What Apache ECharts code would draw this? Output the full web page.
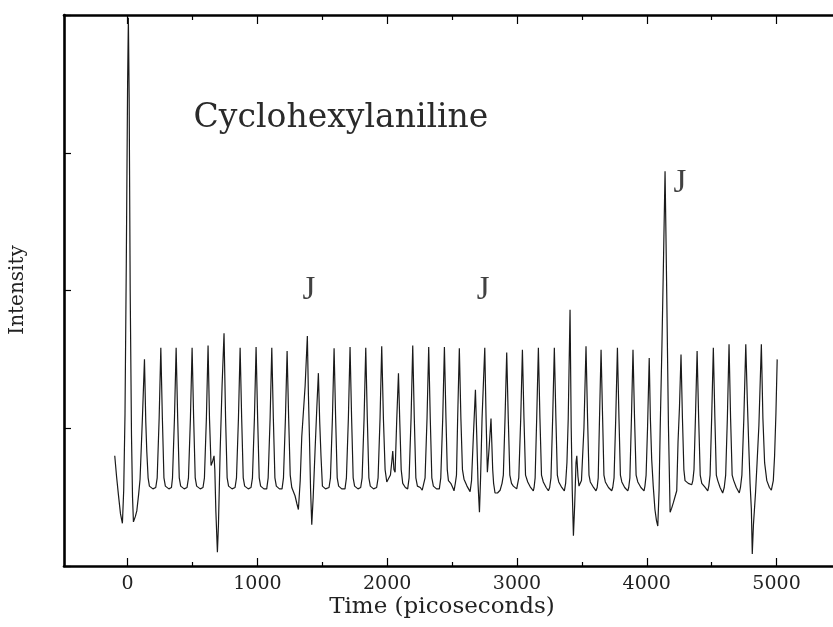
<!DOCTYPE html>
<html>
<head>
<meta charset="utf-8">
<script src="https://cdn.jsdelivr.net/npm/echarts@6/dist/echarts.min.js"></script>
<style>
html,body{margin:0;padding:0;background:#fff;}
#main{width:833px;height:627px;}
</style>
</head>
<body>
<div id="main"></div>
<script>
// ---- data (time in ps, intensity in arbitrary units 0..4) ----
const traceStart = [
[-99,0.80],[-85,0.65],[-71,0.52],[-55,0.38],[-40,0.31],[-30,0.55],[-20,1.10],[-10,2.2],[0,3.5],[6,3.98],[12,3.4],[20,2.0],[30,0.95],[38,0.50],[45,0.32],
[60,0.36],[71,0.40],[85,0.52],[96,0.63],[114,1.07],[130,1.50],[140,1.05],[148,0.83],[158,0.64],[168,0.58],[195,0.56],
[217,0.57],[228,0.64],[243,1.07],[256,1.585],[268,1.07],[280,0.64],[291,0.58],[318,0.56],
[338,0.57],[346,0.64],[361,1.07],[374,1.585],[386,1.07],[398,0.64],[409,0.58],[436,0.56],
[458,0.57],[469,0.64],[484,1.07],[497,1.585],[509,1.07],[521,0.64],[532,0.58],[560,0.56],
[581,0.57],[592,0.64],[607,1.07],[620,1.60],[631,1.07],[643,0.73],[655,0.76],[666,0.80],[672,0.70],[680,0.40],[692,0.10],[700,0.30],[713,0.83],[728,1.31],[743,1.69],[755,1.07],[767,0.64],[778,0.58],[805,0.56],
[828,0.57],[839,0.64],[854,1.07],[867,1.585],[879,1.07],[891,0.64],[902,0.58],[930,0.56],
[951,0.57],[962,0.64],[977,1.07],[990,1.59],[1002,1.07],[1014,0.64],[1025,0.58],[1050,0.56]
];
const traceMiddle = [
[1072,0.56],[1083,0.64],[1098,1.07],[1111,1.585],[1123,1.07],[1135,0.64],[1146,0.58],[1170,0.56],
[1190,0.56],[1201,0.64],[1216,1.07],[1229,1.56],[1241,1.07],[1253,0.66],[1265,0.57],[1290,0.51],[1305,0.45],[1316,0.41],[1330,0.62],[1342,0.94],[1368,1.31],[1385,1.67],[1393,1.25],[1401,0.94],[1410,0.55],[1419,0.30],[1430,0.50],[1444,0.83],[1458,1.15],[1470,1.40],[1480,1.05],[1490,0.80],[1501,0.58],[1525,0.56],
[1552,0.57],[1563,0.64],[1578,1.07],[1591,1.58],[1603,1.07],[1615,0.64],[1626,0.58],[1650,0.56],
[1675,0.56],[1686,0.64],[1701,1.07],[1714,1.59],[1726,1.07],[1738,0.64],[1749,0.58],[1775,0.56],
[1796,0.57],[1807,0.64],[1822,1.07],[1835,1.585],[1847,1.07],[1859,0.64],[1870,0.58],[1895,0.56],
[1919,0.57],[1930,0.64],[1945,1.07],[1958,1.596],[1971,1.07],[1984,0.70],[1997,0.61],[2010,0.60],[2025,0.66],[2036,0.76],[2043,0.835],[2052,0.70],[2061,0.68],[2074,1.07],[2087,1.40],[2097,1.05],[2108,0.70],[2120,0.60],[2140,0.57],
[2158,0.56],[2169,0.64],[2184,1.07],[2197,1.60],[2209,1.07],[2221,0.64],[2233,0.58],[2255,0.57],[2270,0.55],
[2281,0.56],[2292,0.64],[2307,1.07],[2320,1.59],[2332,1.07],[2344,0.64],[2356,0.58],[2380,0.56],
[2402,0.56],[2413,0.64],[2428,1.07],[2441,1.59],[2453,1.07],[2463,0.70],[2472,0.62],[2490,0.60],[2505,0.57],[2515,0.546],
[2525,0.60],[2534,0.66],[2543,1.07],[2556,1.58],[2568,1.07],[2580,0.70],[2592,0.63],[2615,0.58],[2639,0.54],
[2650,0.62],[2664,0.94],[2680,1.28],[2690,0.95],[2700,0.60],[2711,0.39],[2720,0.65],[2731,1.07],[2752,1.585],[2762,1.07],[2772,0.68],[2785,0.85],[2800,1.07],[2806,0.90],[2813,0.70],[2820,0.60],[2831,0.53],[2850,0.53],[2870,0.55],
[2885,0.60],[2895,0.66],[2908,1.07],[2921,1.55],[2933,1.07],[2945,0.66],[2958,0.60],[2972,0.58],[2998,0.56]
];
const traceEnd = [
[3003,0.57],[3014,0.64],[3029,1.07],[3042,1.57],[3054,1.07],[3066,0.66],[3083,0.61],[3105,0.57],[3126,0.546],
[3132,0.57],[3140,0.64],[3152,1.07],[3165,1.585],[3177,1.07],[3189,0.66],[3203,0.61],[3225,0.57],[3242,0.546],
[3252,0.57],[3262,0.64],[3275,1.07],[3288,1.585],[3300,1.07],[3311,0.66],[3322,0.61],[3345,0.57],[3365,0.546],
[3375,0.60],[3385,0.75],[3395,1.07],[3409,1.86],[3418,1.0],[3426,0.55],[3435,0.22],[3445,0.45],[3455,0.75],[3461,0.80],[3470,0.65],[3478,0.58],[3497,0.62],[3516,1.0],[3532,1.596],[3544,1.07],[3555,0.66],[3565,0.61],[3590,0.57],[3609,0.546],
[3618,0.57],[3626,0.64],[3636,1.07],[3648,1.57],[3660,1.07],[3670,0.66],[3681,0.61],[3705,0.57],[3730,0.546],
[3738,0.57],[3748,0.64],[3761,1.07],[3774,1.585],[3786,1.07],[3797,0.66],[3808,0.61],[3830,0.57],[3854,0.546],
[3861,0.57],[3870,0.64],[3882,1.07],[3894,1.57],[3906,1.07],[3918,0.66],[3931,0.61],[3955,0.57],[3979,0.546],
[3986,0.58],[3995,0.66],[4006,1.0],[4019,1.51],[4028,1.07],[4038,0.775],[4050,0.58],[4063,0.41],[4075,0.33],[4085,0.29],[4095,0.55],[4104,1.02],[4117,1.60],[4129,2.22],[4141,2.865],[4148,2.4],[4154,1.98],[4167,1.02],[4180,0.39],[4192,0.42],[4205,0.46],[4220,0.51],[4231,0.546],[4241,0.90],[4252,1.15],[4264,1.536],[4275,1.07],[4286,0.70],[4295,0.62],[4320,0.60],[4347,0.59],
[4355,0.62],[4364,0.70],[4375,1.07],[4388,1.56],[4400,1.07],[4412,0.66],[4424,0.60],[4450,0.57],[4470,0.546],
[4478,0.58],[4488,0.66],[4500,1.07],[4513,1.585],[4525,1.07],[4536,0.66],[4547,0.62],[4565,0.57],[4585,0.53],
[4597,0.57],[4608,0.66],[4621,1.07],[4634,1.61],[4646,1.07],[4658,0.66],[4670,0.62],[4690,0.57],[4713,0.53],
[4722,0.57],[4733,0.66],[4748,1.07],[4763,1.61],[4775,1.2],[4785,0.90],[4796,0.60],[4806,0.41],[4813,0.087],[4822,0.30],[4838,0.53],[4850,0.75],[4864,1.02],[4883,1.61],[4895,1.07],[4908,0.75],[4925,0.62],[4945,0.57],[4960,0.55],[4975,0.62],[4985,0.80],[4995,1.10],[5005,1.50]
];
const jMarks = [[1398,2.00],[2739,2.00],[4256,2.78]];
const majorTicks = [0,1000,2000,3000,4000,5000];
const minorTicks = [500,1500,2500,3500,4500];
const yTicks = [0,1,2,3,4];
const titleText = 'Cyclohexylaniline';
const xName = 'Time (picoseconds)';
const yName = 'Intensity';

const trace = traceStart.concat(traceMiddle, traceEnd);
const xMin = -490, xMax = 5435;
const serif = 'DejaVu Serif';

function xAx(pos, ticks, len, showLine, showLabels) {
  return {
    type: 'value', position: pos, min: xMin, max: xMax, gridIndex: 0,
    axisLine: {show: showLine, onZero: false, lineStyle: {color: '#000', width: 2.6}},
    axisTick: {show: true, inside: true, length: len, customValues: ticks, lineStyle: {color: '#000', width: 1.2}},
    axisLabel: {show: showLabels, customValues: ticks, formatter: function (v) { return String(v); },
      fontFamily: serif, fontSize: 19, color: '#222', margin: 9},
    splitLine: {show: false}
  };
}

const chart = echarts.init(document.getElementById('main'));
chart.setOption({
  animation: false,
  backgroundColor: '#fff',
  grid: {left: 64, right: 0, top: 15, bottom: 61, containLabel: false},
  xAxis: [
    xAx('bottom', majorTicks, 8, true, true),
    xAx('bottom', minorTicks, 4, false, false),
    xAx('top', majorTicks, 9, true, false),
    xAx('top', minorTicks, 5, false, false)
  ],
  yAxis: {
    type: 'value', min: 0, max: 4,
    axisLine: {show: true, onZero: false, lineStyle: {color: '#000', width: 2.6}},
    axisTick: {show: true, inside: true, length: 7, customValues: yTicks, lineStyle: {color: '#000', width: 1.2}},
    axisLabel: {show: false},
    splitLine: {show: false}
  },
  series: [
    {
      type: 'line', xAxisIndex: 0, yAxisIndex: 0, data: trace,
      showSymbol: false, symbol: 'none', clip: true,
      lineStyle: {color: '#1a1a1a', width: 1.2}
    },
    {
      type: 'scatter', xAxisIndex: 0, yAxisIndex: 0, data: jMarks,
      symbolSize: 0, silent: true,
      label: {show: true, position: 'inside', formatter: 'J', fontFamily: 'Liberation Serif', fontSize: 33, color: '#111'}
    }
  ],
  graphic: [
    {type: 'text', x: 341, y: 118, style: {text: titleText, font: '33px "' + serif + '"', fill: '#2a2a2a', align: 'center', verticalAlign: 'middle'}},
    {type: 'text', x: 442, y: 607, style: {text: xName, font: '23px "' + serif + '"', fill: '#222', align: 'center', verticalAlign: 'middle'}},
    {type: 'text', x: 18, y: 290, rotation: Math.PI / 2, style: {text: yName, font: '20px "' + serif + '"', fill: '#222', align: 'center', verticalAlign: 'middle'}}
  ]
});
</script>
</body>
</html>
